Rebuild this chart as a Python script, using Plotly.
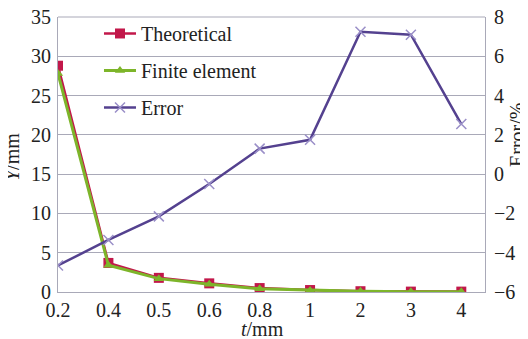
import plotly.graph_objects as go

categories = ["0.2", "0.4", "0.5", "0.6", "0.8", "1", "2", "3", "4"]
theoretical = [28.8, 3.7, 1.8, 1.1, 0.5, 0.25, 0.1, 0.05, 0.05]
finite_element = [27.8, 3.4, 1.7, 1.0, 0.4, 0.2, 0.08, 0.04, 0.04]
error_pct = [-4.65, -3.35, -2.15, -0.5, 1.3, 1.75, 7.25, 7.1, 2.55]

left_ticks = [0, 5, 10, 15, 20, 25, 30, 35]
right_ticks = [-6, -4, -2, 0, 2, 4, 6, 8]

font_family = "Liberation Serif"
grid = "#A9A9B8"
fs = 20
OFF = 8  # page body margin offset
W, H = 528 - OFF, 339 - OFF
PL, PR, PT, PB = 58 - OFF, 485 - OFF, 17 - OFF, 292 - OFF
pw, ph = PR - PL, PB - PT

fig = go.Figure()
fig.add_trace(go.Scatter(
    x=categories, y=theoretical, name="Theoretical", mode="lines+markers",
    line=dict(color="#C2174A", width=2.5),
    marker=dict(symbol="square", size=10, color="#C2174A"),
    legendgroup="a"))
fig.add_trace(go.Scatter(
    x=categories, y=finite_element, name="Finite element", mode="lines+markers",
    line=dict(color="#7DB52A", width=3),
    marker=dict(symbol="triangle-up", size=9, color="#7DB52A"),
    legendgroup="b"))
fig.add_trace(go.Scatter(
    x=categories, y=error_pct, name="Error", mode="lines+markers", yaxis="y2",
    line=dict(color="#54418F", width=2.5),
    marker=dict(symbol="x-thin", size=10, line=dict(color="#9A8FC8", width=1.5)),
    legendgroup="c"))

fig.update_layout(
    width=W, height=H,
    margin=dict(l=PL, r=W - PR, t=PT, b=H - PB, autoexpand=False),
    paper_bgcolor="white", plot_bgcolor="white",
    font=dict(family=font_family, size=fs, color="#222222"),
    showlegend=True,
    legend=dict(x=0.096, y=1.011, xanchor="left", yanchor="top",
                bgcolor="rgba(255,255,255,0)", font=dict(size=fs),
                traceorder="grouped", tracegroupgap=8, itemwidth=32),
    xaxis=dict(
        type="category", categoryorder="array", categoryarray=categories,
        range=[0, 8.47], showgrid=False, showline=True, linecolor=grid,
        linewidth=1, ticks="", tickfont=dict(size=fs), automargin=False,
        ticklabelstandoff=0, zeroline=False, ticklabeloverflow="allow"),
    yaxis=dict(
        range=[0, 35], tickvals=left_ticks, showgrid=True, gridcolor=grid,
        gridwidth=1, showline=True, linecolor=grid, mirror=False,
        tickfont=dict(size=fs), zeroline=False, ticklabelstandoff=2,
        automargin=False, ticklabeloverflow="allow"),
    yaxis2=dict(
        range=[-6, 8], tickvals=right_ticks,
        ticktext=[("\u2212" + str(-v)) if v < 0 else str(v) for v in right_ticks],
        overlaying="y", side="right", showgrid=False, showline=True,
        linecolor=grid, tickfont=dict(size=fs), zeroline=False,
        ticklabelstandoff=4, automargin=False, ticklabeloverflow="allow"),
)
fig.add_shape(type="line", xref="paper", yref="paper", x0=0, x1=1, y0=1, y1=1,
              line=dict(color=grid, width=1))
fig.add_annotation(text="Error/%", textangle=-90, xref="paper", yref="paper",
                   x=(517 - OFF - PL) / pw, y=(PB - (135 - OFF)) / ph, showarrow=False,
                   font=dict(size=fs), xanchor="center", yanchor="middle")
fig.add_annotation(text="<i>Y</i>/mm", textangle=-90, xref="paper", yref="paper",
                   x=(12 - OFF - PL) / pw, y=(PB - (157 - OFF)) / ph, showarrow=False,
                   font=dict(size=fs), xanchor="center", yanchor="middle")
fig.add_annotation(text="<i>t</i>/mm", xref="paper", yref="paper",
                   x=(262 - OFF - PL) / pw, y=(PB - (329 - OFF)) / ph, showarrow=False,
                   font=dict(size=fs), xanchor="center", yanchor="middle")

fig.write_html("out.html")
